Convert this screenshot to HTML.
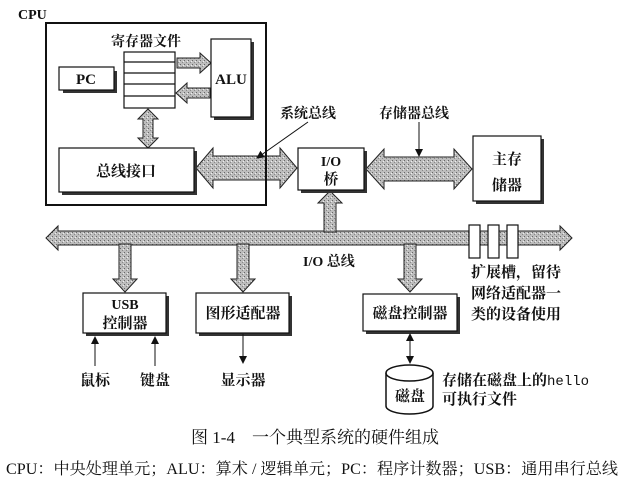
<!DOCTYPE html>
<html><head><meta charset="utf-8"><style>
html,body{margin:0;padding:0;background:#fff;}
svg{display:block;}
text{font-family:"Liberation Serif","Noto Serif CJK SC","Noto Sans CJK SC",serif;fill:#111;}
.s{font-family:"Liberation Serif","Noto Serif CJK SC",serif;font-weight:bold;}
</style></head><body>
<svg width="624" height="482" viewBox="0 0 624 482" xmlns="http://www.w3.org/2000/svg">
<defs>
<pattern id="g" width="4" height="4" patternUnits="userSpaceOnUse">
<rect width="4" height="4" fill="#bdbdbd"/><rect x="0" y="0" width="1" height="1" fill="#666"/><rect x="2" y="2" width="1" height="1" fill="#888"/><rect x="3" y="1" width="1" height="1" fill="#eee"/>
</pattern>
<marker id="ah" markerWidth="8" markerHeight="8" refX="7" refY="4" orient="auto" markerUnits="userSpaceOnUse"><path d="M0,0 L8,4 L0,8 z" fill="#111"/></marker>
</defs>
<g stroke="#222" stroke-width="1" fill="url(#g)">
<polygon points="177,58 200,58 200,53 211,63 200,73 200,68 177,68"/>
<polygon points="210,88 187,88 187,83 176,93 187,103 187,98 210,98"/>
<polygon points="148,109 158,119 153,119 153,138 158,138 148,148 138,138 143,138 143,119 138,119"/>
<polygon points="196,168 213,148 213,156 280,156 280,148 297,168 280,188 280,180 213,180 213,188"/>
<polygon points="366,169 384,149 384,157 454,157 454,149 472,169 454,189 454,181 384,181 384,189"/>
<polygon points="46,238 58,226 58,231 560,231 560,226 572,238 560,250 560,245 58,245 58,250"/>
<polygon points="324,232 324,203 318,203 330,191 342,203 336,203 336,232"/>
<polygon points="119,244 119,279 113,279 125,292 137,279 131,279 131,244"/>
<polygon points="237,244 237,279 231,279 243,292 255,279 249,279 249,244"/>
<polygon points="404,244 404,279 398,279 410,292 422,279 416,279 416,244"/>
</g>
<text x="18" y="19" font-size="14" font-weight="bold">CPU</text>
<rect x="46" y="23" width="220" height="182" fill="none" stroke="#111" stroke-width="2"/>
<text x="146" y="46" font-size="14" text-anchor="middle" class="s">寄存器文件</text>
<g fill="#fff" stroke="#111" stroke-width="1.2">
<rect x="124" y="52" width="51" height="56"/>
<line x1="124" y1="62" x2="175" y2="62"/><line x1="124" y1="73" x2="175" y2="73"/><line x1="124" y1="84" x2="175" y2="84"/><line x1="124" y1="96" x2="175" y2="96"/>
</g>
<g fill="#333">
<rect x="63" y="71" width="54" height="22"/><rect x="214" y="42" width="40" height="78"/><rect x="62" y="151" width="135" height="44"/>
<rect x="301" y="151" width="66" height="42"/><rect x="476" y="139" width="68" height="65"/>
<rect x="86" y="296" width="83" height="40"/><rect x="199" y="296" width="93" height="40"/><rect x="366" y="297" width="94" height="37"/>
</g>
<g fill="#fff" stroke="#111" stroke-width="1.2">
<rect x="59" y="67" width="55" height="23"/><rect x="211" y="39" width="40" height="78"/><rect x="59" y="148" width="135" height="44"/>
<rect x="298" y="148" width="66" height="42"/><rect x="473" y="136" width="68" height="65"/>
<rect x="83" y="293" width="83" height="40"/><rect x="196" y="293" width="93" height="40"/><rect x="363" y="294" width="94" height="37"/>
</g>
<text x="86" y="84" font-size="15" text-anchor="middle" font-weight="bold">PC</text>
<text x="231" y="84" font-size="15" text-anchor="middle" font-weight="bold">ALU</text>
<text x="126" y="176" font-size="15" text-anchor="middle" class="s">总线接口</text>
<text x="331" y="166" font-size="14" text-anchor="middle" font-weight="bold">I/O</text>
<text x="331" y="184" font-size="15" text-anchor="middle" class="s">桥</text>
<text x="507" y="164" font-size="15" text-anchor="middle" class="s">主存</text>
<text x="507" y="190" font-size="15" text-anchor="middle" class="s">储器</text>
<text x="125" y="309" font-size="14" text-anchor="middle" font-weight="bold">USB</text>
<text x="125" y="328" font-size="15" text-anchor="middle" class="s">控制器</text>
<text x="243" y="318" font-size="15" text-anchor="middle" class="s">图形适配器</text>
<text x="410" y="318" font-size="15" text-anchor="middle" class="s">磁盘控制器</text>
<text x="280" y="118" font-size="14" class="s">系统总线</text>
<line x1="308" y1="122" x2="257" y2="158" stroke="#111" marker-end="url(#ah)"/>
<text x="379" y="118" font-size="14" class="s">存储器总线</text>
<line x1="419" y1="122" x2="419" y2="156" stroke="#111" marker-end="url(#ah)"/>
<text x="303" y="266" font-size="14" class="s">I/O 总线</text>
<g fill="#fff" stroke="#111" stroke-width="1.2">
<rect x="469" y="225" width="11" height="33"/><rect x="488" y="225" width="11" height="33"/><rect x="507" y="225" width="11" height="33"/>
</g>
<text x="471" y="277" font-size="15" class="s">扩展槽，留待</text>
<text x="471" y="298" font-size="15" class="s">网络适配器一</text>
<text x="471" y="319" font-size="15" class="s">类的设备使用</text>
<line x1="95" y1="366" x2="95" y2="337" stroke="#111" marker-end="url(#ah)"/>
<line x1="155" y1="366" x2="155" y2="337" stroke="#111" marker-end="url(#ah)"/>
<line x1="243" y1="334" x2="243" y2="363" stroke="#111" marker-end="url(#ah)"/>
<line x1="410" y1="340" x2="410" y2="357" stroke="#111"/>
<path d="M410,333 l-4,8 h8 z M410,364 l-4,-8 h8 z" fill="#111"/>
<text x="95" y="385" font-size="15" text-anchor="middle" class="s">鼠标</text>
<text x="155" y="385" font-size="15" text-anchor="middle" class="s">键盘</text>
<text x="243" y="385" font-size="15" text-anchor="middle" class="s">显示器</text>
<path d="M386,373 v33 a23.5,8 0 0 0 47,0 v-33" fill="#fff" stroke="#111" stroke-width="1.5"/>
<ellipse cx="409.5" cy="373" rx="23.5" ry="8" fill="#fff" stroke="#111" stroke-width="1.5"/>
<text x="410" y="401" font-size="15" text-anchor="middle" class="s">磁盘</text>
<text x="442" y="385" font-size="15" class="s">存储在磁盘上的<tspan font-family="Liberation Mono,monospace" font-weight="normal" font-size="14">hello</tspan></text>
<text x="442" y="404" font-size="15" class="s">可执行文件</text>
<text x="315" y="443" font-size="17" text-anchor="middle">图 1-4　一个典型系统的硬件组成</text>
<text x="312" y="474" font-size="16" text-anchor="middle" textLength="612" lengthAdjust="spacingAndGlyphs">CPU：中央处理单元；ALU：算术 / 逻辑单元；PC：程序计数器；USB：通用串行总线</text>
</svg>
</body></html>
